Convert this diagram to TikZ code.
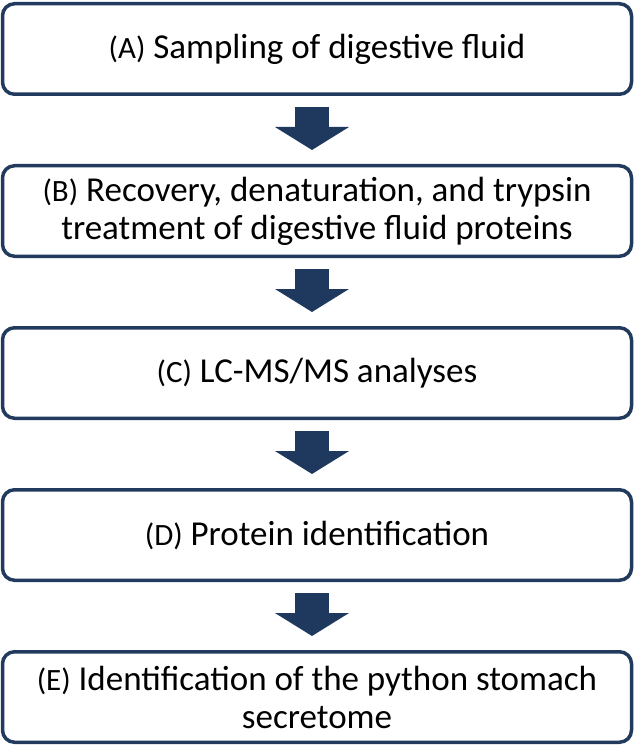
\documentclass[tikz,border=0pt]{standalone}
\usepackage{fontspec}
\setmainfont{Carlito}
\usepackage{xcolor}
\usetikzlibrary{positioning,calc,arrows.meta}

\definecolor{boxblue}{RGB}{33,58,94}
\definecolor{arrowblue}{RGB}{30,56,94}

\newcommand{\steplabel}[1]{{\fontsize{31}{38}\selectfont (#1)}}

\begin{document}
\begin{tikzpicture}[x=1pt,y=1pt,
    stepbox/.style={draw=boxblue, line width=3.5pt, rounded corners=12pt,
        minimum width=629pt, minimum height=90.5pt, align=center,
        inner sep=2pt, font=\fontsize{35}{38}\selectfont},
    flowarrow/.style={arrowblue, line width=34pt,
        -{Triangle[width=73pt,length=23pt]}},
    node distance=68pt]
    \useasboundingbox (0,0) rectangle (634,-746);

    \node[stepbox] (A) at (317,-49) {\steplabel{A} Sampling of digestive fluid};
    \node[stepbox, below=of A] (B) {\steplabel{B} Recovery, denaturation, and trypsin\\treatment of digestive fluid proteins};
    \node[stepbox, below=of B] (C) {\steplabel{C} LC-MS/MS analyses};
    \node[stepbox, below=of C] (D) {\steplabel{D} Protein identification};
    \node[stepbox, below=of D] (E) {\steplabel{E} Identification of the python stomach\\secretome};

    % block arrows between the steps
    \foreach \from/\to in {A/B, B/C, C/D, D/E}
        \draw[flowarrow] ($(\from.south)+(-5,-11)$) -- ($(\to.north)+(-5,14)$);
\end{tikzpicture}
\end{document}
